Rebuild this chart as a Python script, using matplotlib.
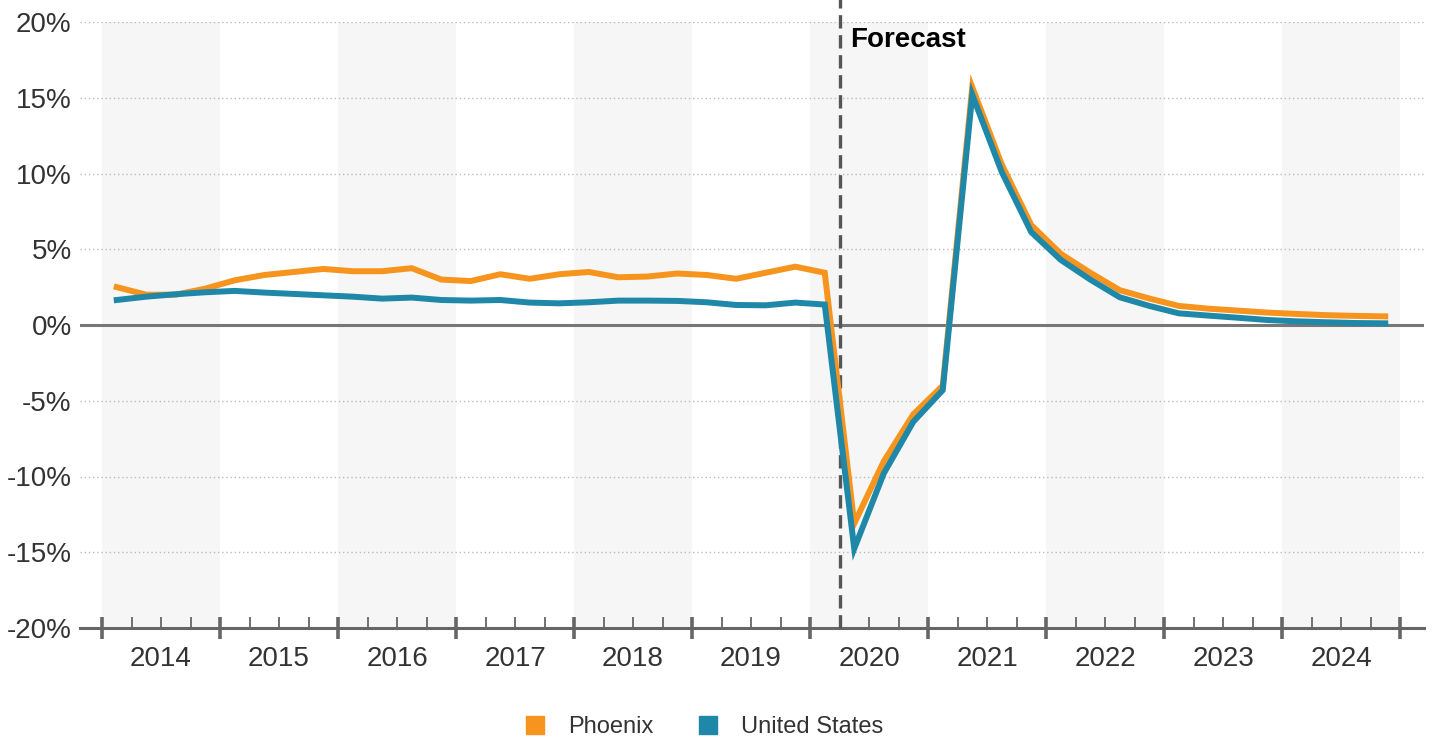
import numpy as np
import matplotlib
matplotlib.use("Agg")
import matplotlib.pyplot as plt
from matplotlib.lines import Line2D

plt.rcParams['font.family'] = ['Liberation Sans', 'DejaVu Sans']

# quarterly year-over-year change, 2014 Q1 .. 2024 Q4
years = list(range(2014, 2025))
phoenix = [2.5, 2.0, 2.0, 2.4,
           2.95, 3.3, 3.5, 3.7,
           3.55, 3.55, 3.75, 3.0,
           2.9, 3.35, 3.05, 3.35,
           3.5, 3.15, 3.2, 3.4,
           3.3, 3.05, 3.45, 3.85,
           3.45, -13.1, -9.0, -5.9,
           -4.0, 15.7, 10.6, 6.6,
           4.7, 3.45, 2.3, 1.75,
           1.26, 1.08, 0.95, 0.82,
           0.73, 0.65, 0.6, 0.57]
us = [1.65, 1.87, 2.03, 2.16,
      2.25, 2.14, 2.05, 1.96,
      1.87, 1.74, 1.81, 1.65,
      1.61, 1.65, 1.48, 1.43,
      1.5, 1.61, 1.61, 1.59,
      1.5, 1.32, 1.3, 1.48,
      1.35, -14.76, -9.8, -6.39,
      -4.3, 15.2, 10.1, 6.13,
      4.3, 3.0, 1.83, 1.26,
      0.77, 0.62, 0.48, 0.33,
      0.24, 0.18, 0.13, 0.11]
forecast_start = 2020.25
yticks = [20, 15, 10, 5, 0, -5, -10, -15, -20]

orange = '#F7941D'
blue = '#1F87A8'
axis_col = '#666666'
text_col = '#333333'

x = np.array([y + (q + 0.5) / 4 for y in years for q in range(4)])

fig = plt.figure(figsize=(14.32, 7.38), dpi=100)
ax = fig.add_axes([80/1432, 1 - 628/738, (1424-80)/1432, (628-22)/738])
ax.set_xlim(2014 - 22/118, 2025 + 24/118)
ax.set_ylim(-20, 20)

# alternating year bands
for yr in years[::2]:
    ax.axvspan(yr, yr + 1, color='#f6f6f6', lw=0, zorder=0)

# grid
for v in yticks:
    if v in (0, -20):
        continue
    ax.axhline(v, color='#bbbbbb', lw=1, ls=(0, (1, 2)), zorder=1)
ax.axhline(0, color='#777777', lw=2.2, zorder=2)

for s in ['top', 'right', 'left']:
    ax.spines[s].set_visible(False)
ax.spines['bottom'].set_color(axis_col)
ax.spines['bottom'].set_linewidth(2.2)

# x ticks
ax.set_xticks(np.arange(2014, 2026))
ax.set_xticklabels([])
ax.set_xticks([y + q / 4 for y in years for q in (1, 2, 3)], minor=True)
ax.tick_params(axis='x', which='major', direction='inout', length=16, width=2.6, color=axis_col)
ax.tick_params(axis='x', which='minor', direction='in', length=8, width=1.3, color=axis_col)
for yr in years:
    ax.annotate(str(yr), xy=(yr + 0.5, -20), xytext=(0, -13), textcoords='offset points',
                ha='center', va='top', fontsize=20, color=text_col, annotation_clip=False)

# y ticks
ax.set_yticks(yticks)
ax.set_yticklabels([f'{v}%' for v in yticks])
ax.tick_params(axis='y', length=0, pad=6, labelsize=20, labelcolor=text_col)

# forecast divider
ax.plot([forecast_start, forecast_start], [-20, 21.5], color='#555555', lw=2.4,
        ls=(0, (4, 2)), clip_on=False, zorder=3)
ax.text(forecast_start + 0.09, 18.8, 'Forecast', fontsize=20, fontweight='bold',
        color='black', va='center', ha='left')

ax.plot(x, phoenix, color=orange, lw=4.3, solid_joinstyle='miter', zorder=4)
ax.plot(x, us, color=blue, lw=4.3, solid_joinstyle='miter', zorder=5)

handles = [Line2D([], [], ls='', marker='s', markersize=13.5, color=orange),
           Line2D([], [], ls='', marker='s', markersize=13.5, color=blue)]
fig.legend(handles, ['Phoenix', 'United States'], loc='center', ncol=2,
           bbox_to_anchor=(0.492, 1 - 727/738), frameon=False, fontsize=17,
           handlelength=0.8, handletextpad=1.0, columnspacing=1.9,
           labelcolor=text_col, borderpad=0, borderaxespad=0)

fig.savefig('out.png', dpi=100)
